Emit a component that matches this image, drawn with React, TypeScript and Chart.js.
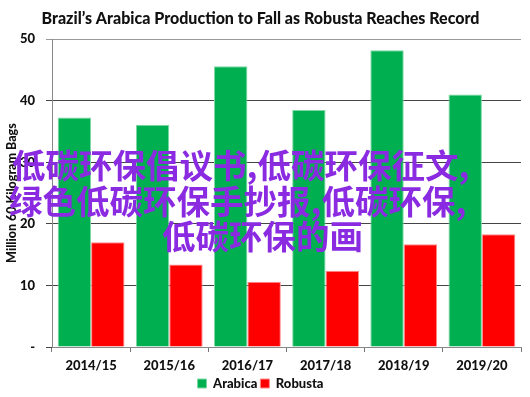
import React, { useEffect, useRef } from "react";
import { Chart, registerables } from "chart.js";

Chart.register(...registerables);

const categories = ["2014/15", "2015/16", "2016/17", "2017/18", "2018/19", "2019/20"];
const arabica = [37.3, 36.1, 45.6, 38.5, 48.2, 41.0];
const robusta = [17.0, 13.4, 10.6, 12.4, 16.7, 18.3];
const titleText = "Brazil\u2019s Arabica Production to Fall as Robusta Reaches Record";
const yTitle = "Million 60 Kilogram Bags";
const overlayLines = ["低碳环保倡议书,低碳环保征文,", "绿色低碳环保手抄报,低碳环保,", "低碳环保的画"];

const FONT = "Lato, 'Open Sans', sans-serif";

const shiftLegend = {
  id: "shiftLegend",
  afterLayout(chart: any) {
    if (chart.legend) {
      chart.legend.top += 3;
      chart.legend.bottom += 3;
    }
  },
};

export default function App() {
  const ref = useRef<HTMLCanvasElement | null>(null);
  useEffect(() => {
    if (!ref.current) return;
    const chart = new Chart(ref.current, {
      type: "bar",
      data: {
        labels: categories,
        datasets: [
          {
            label: "Arabica",
            data: arabica,
            backgroundColor: "#00B050",
            borderColor: "#7fd8a6",
            borderWidth: 1,
            categoryPercentage: 0.855,
            barPercentage: 1,
          },
          {
            label: "Robusta",
            data: robusta,
            backgroundColor: "#FF0000",
            borderColor: "#ff8a8a",
            borderWidth: 1,
            categoryPercentage: 0.855,
            barPercentage: 1,
          },
        ],
      },
      plugins: [shiftLegend],
      options: {
        animation: false,
        responsive: false,
        devicePixelRatio: 1,
        layout: { padding: { top: 0, right: 9, bottom: 0, left: 0 } },
        plugins: {
          title: {
            display: true,
            text: titleText,
            color: "#111",
            font: { family: FONT, size: 16, weight: 900 },
            padding: { top: 9, bottom: 11 },
          },
          legend: {
            position: "bottom",
            labels: {
              boxWidth: 9,
              boxHeight: 9,
              color: "#111",
              font: { family: FONT, size: 13, weight: 900 },
              padding: 3,
            },
          },
          tooltip: { enabled: false },
        },
        scales: {
          x: {
            afterFit: (s: any) => {
              s.height = 24;
            },
            grid: {
              offset: true,
              drawOnChartArea: false,
              drawTicks: true,
              tickLength: 5,
              color: "#777",
            },
            border: { color: "#888", width: 1 },
            ticks: {
              color: "#111",
              font: { family: FONT, size: 13, weight: 900 },
              padding: 6,
            },
          },
          y: {
            min: 0,
            max: 50,
            afterFit: (s: any) => {
              s.width = 52;
            },
            ticks: {
              stepSize: 10,
              color: "#111",
              font: { family: FONT, size: 13, weight: 900 },
              padding: 11,
              callback: (v: any) => (v === 0 ? "-" : String(v)),
            },
            grid: {
              color: (ctx: any) => (ctx.tick && ctx.tick.value === 50 ? "#999" : "#444"),
              tickLength: 6,
            },
            border: { color: "#888", width: 1 },
            title: {
              display: true,
              text: yTitle,
              color: "#111",
              font: { family: FONT, size: 12.5, weight: 900 },
              padding: { top: 4, bottom: 0 },
            },
          },
        },
      },
    });
    return () => chart.destroy();
  }, []);

  const lineStyle: React.CSSProperties = {
    position: "absolute",
    whiteSpace: "nowrap",
    fontFamily: "'Noto Sans CJK SC', sans-serif",
    fontWeight: "bold",
    fontSize: 33.5,
    lineHeight: "36px",
    color: "#8a2be2",
  };

  return (
    <div style={{ position: "fixed", left: 0, top: 0, width: 530, height: 397, background: "#fff" }}>
      <canvas ref={ref} width={530} height={397} style={{ display: "block" }} />
      <div style={{ ...lineStyle, left: 12, top: 146 }}>{overlayLines[0]}</div>
      <div style={{ ...lineStyle, left: 9, top: 182 }}>{overlayLines[1]}</div>
      <div style={{ ...lineStyle, left: 162, top: 217 }}>{overlayLines[2]}</div>
    </div>
  );
}
